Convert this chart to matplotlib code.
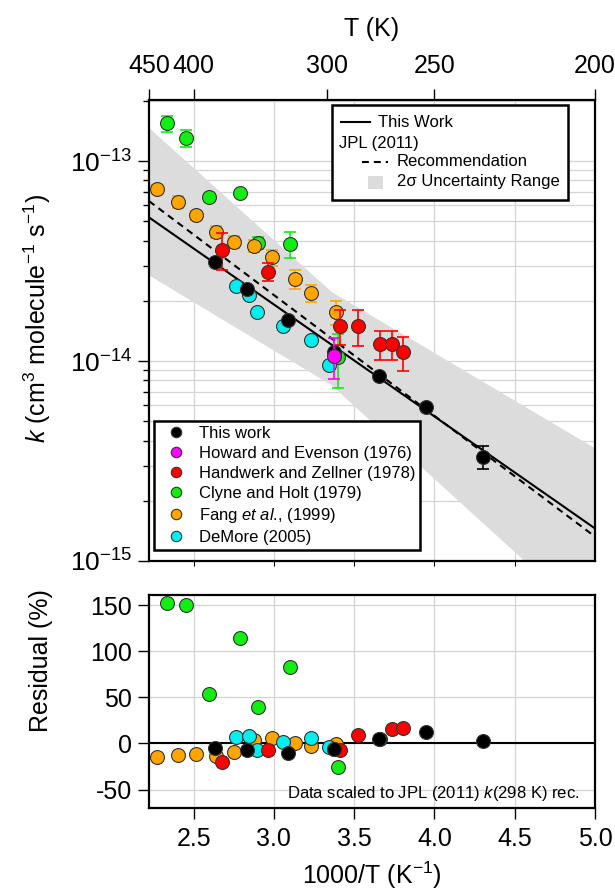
import numpy as np
import matplotlib
matplotlib.use("Agg")
import matplotlib.pyplot as plt
from matplotlib.lines import Line2D
from matplotlib.patches import Rectangle
from matplotlib.ticker import FuncFormatter, LogLocator, NullFormatter

plt.rcParams['font.family'] = ['Liberation Sans', 'DejaVu Sans']
plt.rcParams['mathtext.fontset'] = 'custom'
plt.rcParams['mathtext.rm'] = 'Liberation Sans'
plt.rcParams['mathtext.it'] = 'Liberation Sans:italic'
plt.rcParams['mathtext.bf'] = 'Liberation Sans:bold'
plt.rcParams['axes.unicode_minus'] = False

# ---------------- data ----------------
this_x = [2.631, 2.835, 3.0855, 3.375, 3.652, 3.948, 4.302]
this_k = [3.13e-14, 2.30e-14, 1.60e-14, 1.11e-14, 8.41e-15, 5.89e-15, 3.32e-15]
this_err = [0, 0, 0, 0, 0, 0, 0.43e-15]
this_res = [-5.4, -7.6, -10.1, -6.1, 4.7, 11.9, 2.5]

howard_x = [3.377]
howard_k = [1.06e-14]
howard_err = [0.25e-14]
howard_res = [-6.0]

handwerk_x = [2.675, 2.9625, 3.41, 3.527, 3.6625, 3.733, 3.802]
handwerk_k = [3.60e-14, 2.80e-14, 1.50e-14, 1.50e-14, 1.21e-14, 1.21e-14, 1.105e-14]
handwerk_err = [0.75e-14, 0.30e-14, 0.30e-14, 0.31e-14, 0.20e-14, 0.20e-14, 0.21e-14]
handwerk_res = [-20.2, -7.2, -7.2, 9.4, 5.0, 15.9, 17.3]

clyne_x = [2.333, 2.452, 2.594, 2.787, 2.902, 3.102, 3.400]
clyne_k = [1.543e-13, 1.30e-13, 6.63e-14, 6.95e-14, 3.90e-14, 3.85e-14, 1.05e-14]
clyne_err = [0.14e-13, 0.13e-13, 0, 0, 0.27e-14, 0.58e-14, 0.32e-14]
clyne_res = [152, 150.5, 53.4, 113.9, 39.3, 82.6, -26]

fang_x = [2.275, 2.402, 2.517, 2.640, 2.752, 2.877, 2.9875, 3.129, 3.233, 3.3875]
fang_k = [7.24e-14, 6.26e-14, 5.35e-14, 4.42e-14, 3.94e-14, 3.77e-14, 3.30e-14, 2.58e-14, 2.19e-14, 1.76e-14]
fang_err = [0.33e-14, 0.44e-14, 0.25e-14, 0.31e-14, 0.28e-14, 0.26e-14, 0.31e-14, 0.28e-14, 0.21e-14, 0.24e-14]
fang_res = [-14.8, -12.6, -11.2, -13.5, -9.4, 3.6, 5.4, 0.7, -2.5, -0.7]

demore_x = [2.767, 2.844, 2.896, 3.054, 3.233, 3.344]
demore_k = [2.37e-14, 2.13e-14, 1.75e-14, 1.50e-14, 1.27e-14, 9.58e-15]
demore_res = [7, 8, -7.5, 1.5, 6, -4]

fit_x = [2.222, 5.0]
this_fit_k = [5.23e-14, 1.455e-15]
jpl_fit_k = [6.31e-14, 1.324e-15]

band_x = [2.222, 3.356, 5.0]
band_hi = [1.467e-13, 2.23e-14, 3.67e-15]
band_lo = [2.69e-14, 7.61e-15, 4.78e-16]

T_ticks = [450, 400, 300, 250, 200]
x_ticks = [2.5, 3.0, 3.5, 4.0, 4.5, 5.0]
res_ticks = [-50, 0, 50, 100, 150]

labels = ["This work", "Howard and Evenson (1976)", "Handwerk and Zellner (1978)",
          "Clyne and Holt (1979)", r"Fang $\mathit{et\ al}$., (1999)", "DeMore (2005)"]
colors = ["#000000", "#ff00ff", "#ff0000", "#11ee11", "#ffa500", "#00f0f0"]

# ---------------- figure ----------------
W, H = 615, 890
fig = plt.figure(figsize=(W / 100, H / 100), dpi=100)
L, R = 149, 595
ax1 = fig.add_axes([L / W, 1 - 561 / H, (R - L) / W, (561 - 100) / H])
ax2 = fig.add_axes([L / W, 1 - 808 / H, (R - L) / W, (808 - 595) / H])

XLIM = (1000 / 450, 5.0)
grid_kw = dict(color='#d4d4d4', lw=0.9)
mec = '#333333'
ms = 10
TICK_FS = 18
LAB_FS = 18

# ---- top panel ----
ax1.set_yscale('log')
ax1.fill_between(band_x, band_lo, band_hi, color='#dcdcdc', lw=0, zorder=1)
ax1.plot(fit_x, this_fit_k, color='k', lw=1.5, zorder=2)
ax1.plot(fit_x, jpl_fit_k, color='k', lw=1.5, dashes=(3.3, 2.4), zorder=2)

series_top = [
    (clyne_x, clyne_k, clyne_err, colors[3], 3),
    (demore_x, demore_k, None, colors[5], 4),
    (fang_x, fang_k, fang_err, colors[4], 5),
    (handwerk_x, handwerk_k, handwerk_err, colors[2], 6),
    (this_x, this_k, this_err, colors[0], 7),
    (howard_x, howard_k, howard_err, colors[1], 8),
]
for xs, ks, es, c, z in series_top:
    if es is not None:
        ax1.errorbar(xs, ks, yerr=es, fmt='none', ecolor=c, elinewidth=1.2,
                     capsize=4.5, capthick=1.2, zorder=z)
    ax1.plot(xs, ks, 'o', ms=ms, mfc=c, mec=mec, mew=0.8, ls='none', zorder=z + 0.5)

ax1.set_xlim(XLIM)
ax1.set_ylim(1e-15, 2.02e-13)
ax1.set_xticks(x_ticks[:-1])
ax1.tick_params(axis='x', bottom=False, labelbottom=False)
ax1.yaxis.set_major_locator(LogLocator(base=10, numticks=10))
ax1.yaxis.set_minor_locator(LogLocator(base=10, subs=np.arange(2, 10), numticks=20))
ax1.yaxis.set_minor_formatter(NullFormatter())
ax1.yaxis.set_major_formatter(FuncFormatter(lambda v, p: r'$\mathregular{10}^{%d}$' % round(np.log10(v))))
ax1.tick_params(axis='y', which='major', direction='out', length=8, width=1, labelsize=TICK_FS + 1, pad=4)
ax1.tick_params(axis='y', which='minor', direction='out', length=4.5, width=1)
ax1.grid(True, which='major', axis='x', **grid_kw)
ax1.grid(True, which='both', axis='y', **grid_kw)
ax1.set_axisbelow(True)
for s in ax1.spines.values():
    s.set_linewidth(1.6)
ax1.set_ylabel(r'$k$ (cm$^3$ molecule$^{-1}$ s$^{-1}$)', fontsize=LAB_FS)
ax1.yaxis.set_label_coords(-0.215, 0.525)

axT = ax1.twiny()
axT.set_xlim(XLIM)
axT.set_xticks([1000 / t for t in T_ticks])
axT.set_xticklabels([str(t) for t in T_ticks])
axT.tick_params(axis='x', direction='out', length=8, width=1, labelsize=TICK_FS, pad=8)
axT.set_xlabel('T (K)', fontsize=LAB_FS, labelpad=13)
for s in axT.spines.values():
    s.set_visible(False)

# top legend (manual)
def fx(px):
    return (px - L) / (R - L)

def fy(py):
    return (561 - py) / (561 - 100)

leg_fs = 12
ax1.add_patch(Rectangle((fx(331.7), fy(200)), fx(568.3) - fx(331.7), fy(105) - fy(200),
                        transform=ax1.transAxes, facecolor='white', edgecolor='k', lw=1.8, zorder=20))
ax1.add_line(Line2D([fx(340.7), fx(370)], [fy(122.3)] * 2, transform=ax1.transAxes, color='k', lw=1.5, zorder=21))
ax1.text(fx(378.3), fy(122.3), 'This Work', transform=ax1.transAxes, fontsize=leg_fs, va='center', ha='left', zorder=21)
ax1.text(fx(339.3), fy(143.3), 'JPL (2011)', transform=ax1.transAxes, fontsize=leg_fs, va='center', ha='left', zorder=21)
ax1.add_line(Line2D([fx(361.7), fx(388.3)], [fy(161.7)] * 2, transform=ax1.transAxes, color='k', lw=1.5,
                    dashes=(3.3, 2.4), zorder=21))
ax1.text(fx(396.7), fy(161.7), 'Recommendation', transform=ax1.transAxes, fontsize=leg_fs, va='center', ha='left', zorder=21)
ax1.add_patch(Rectangle((fx(368.3), fy(189)), fx(382.7) - fx(368.3), fy(176) - fy(189),
                        transform=ax1.transAxes, facecolor='#dcdcdc', lw=0, zorder=21))
ax1.text(fx(396.7), fy(181.7), '2σ Uncertainty Range', transform=ax1.transAxes, fontsize=leg_fs, va='center', ha='left', zorder=21)

# lower legend
handles = [Line2D([], [], marker='o', ls='none', ms=7.5, mfc=c, mec=mec, mew=0.8) for c in colors]
leg = ax1.legend(handles, labels, loc='lower left', bbox_to_anchor=(fx(154.3), fy(550)),
                 bbox_transform=ax1.transAxes, borderaxespad=0, fontsize=leg_fs, frameon=True,
                 fancybox=False, edgecolor='k', framealpha=1, borderpad=0.3, handlelength=2.05,
                 handletextpad=0.32, labelspacing=0.3, numpoints=1)
leg.get_frame().set_linewidth(1.8)
leg.set_zorder(20)

# ---- residual panel ----
series_res = [
    (clyne_x, clyne_res, colors[3], 3),
    (fang_x, fang_res, colors[4], 4),
    (demore_x, demore_res, colors[5], 5),
    (handwerk_x, handwerk_res, colors[2], 6),
    (howard_x, howard_res, colors[1], 7),
    (this_x, this_res, colors[0], 8),
]
ax2.axhline(0, color='k', lw=1.5, zorder=2)
for xs, rs, c, z in series_res:
    ax2.plot(xs, rs, 'o', ms=ms, mfc=c, mec=mec, mew=0.8, ls='none', zorder=z)
ax2.set_xlim(XLIM)
ax2.set_ylim(-70, 161)
ax2.set_xticks(x_ticks)
ax2.set_xticklabels(['%.1f' % v for v in x_ticks])
ax2.set_yticks(res_ticks)
ax2.tick_params(axis='both', direction='out', length=8, width=1, labelsize=TICK_FS)
ax2.tick_params(axis='x', pad=6)
ax2.tick_params(axis='y', pad=4)
ax2.grid(True, which='major', **grid_kw)
ax2.set_axisbelow(True)
for s in ax2.spines.values():
    s.set_linewidth(1.6)
ax2.set_ylabel('Residual (%)', fontsize=LAB_FS)
ax2.yaxis.set_label_coords(-0.215, 0.69)
ax2.set_xlabel(r'1000/T (K$^{-1}$)', fontsize=LAB_FS, labelpad=6)
ax2.text(0.965, 0.07, r'Data scaled to JPL (2011) $k$(298 K) rec.', transform=ax2.transAxes,
         fontsize=12, ha='right', va='center')

fig.savefig('out.png', dpi=100)
